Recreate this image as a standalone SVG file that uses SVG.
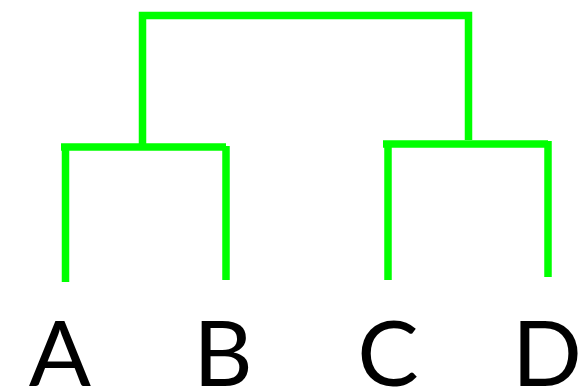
<svg xmlns="http://www.w3.org/2000/svg" width="581" height="391" viewBox="0 0 581 391">
<style>
.c{fill:none;stroke:#00ff00;stroke-width:7.5;stroke-linecap:butt}
.t{font-family:Lato,"Liberation Sans",sans-serif;font-size:92px;fill:#000;text-anchor:middle}
</style>
<rect width="581" height="391" fill="#fff"/>
<g id="connectors">
<path class="c" d="M142.5 145V15.5H468.5V140"/>
<path class="c" d="M61 147H226"/>
<path class="c" d="M65.5 146V282"/>
<path class="c" d="M226 146V280"/>
<path class="c" d="M383 144H548"/>
<path class="c" d="M388 141V280"/>
<path class="c" d="M548 141V277"/>
</g>
<g id="A"><text class="t" x="60" y="386">A</text></g>
<g id="B"><text class="t" x="223" y="386">B</text></g>
<g id="C"><text class="t" x="388" y="386">C</text></g>
<g id="D"><text class="t" x="547" y="386">D</text></g>
</svg>
